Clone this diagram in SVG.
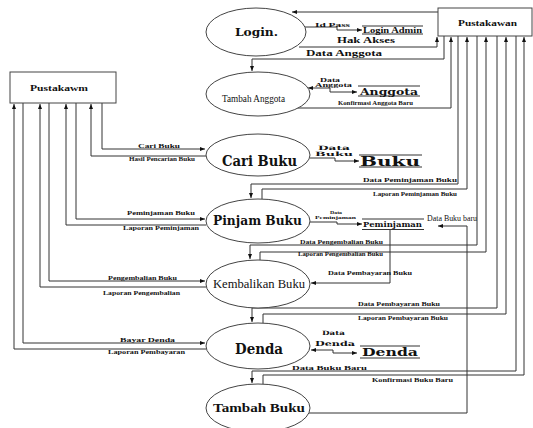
<svg xmlns="http://www.w3.org/2000/svg" width="533" height="428" viewBox="0 0 533 428">
<style>
text{font-family:"Liberation Serif","Times New Roman",serif;fill:#111}
.b{font-weight:bold}
.w{font-family:"DejaVu Serif","Liberation Serif",serif;font-weight:bold}
.ln{fill:none;stroke:#333;stroke-width:1}
.sh{fill:#fff;stroke:#444;stroke-width:1}
</style>
<defs>
<marker id="a" viewBox="0 0 10 10" refX="10" refY="5" markerWidth="5" markerHeight="5" orient="auto-start-reverse"><path d="M0,1 L10,5 L0,9 z" fill="#111"/></marker>
</defs>
<rect width="533" height="428" fill="#fff"/>

<g id="connectors">
<path class="ln" d="M438,12 H292" marker-end="url(#a)"/>
<path class="ln" d="M299,47 H437 V37" marker-end="url(#a)"/>
<path class="ln" d="M444,36 V59 H252 V71" marker-end="url(#a)"/>
<path class="ln" d="M297,108 H451 V37" marker-end="url(#a)"/>
<path class="ln" d="M458,36 V184 H251 V198" marker-end="url(#a)"/>
<path class="ln" d="M262,199 V189 H467 V37" marker-end="url(#a)"/>
<path class="ln" d="M477,36 V245 H250 V259" marker-end="url(#a)"/>
<path class="ln" d="M260,260 V252 H486 V37" marker-end="url(#a)"/>
<path class="ln" d="M497,36 V308 H252 V322" marker-end="url(#a)"/>
<path class="ln" d="M263,323 V314 H506 V37" marker-end="url(#a)"/>
<path class="ln" d="M516,36 V371 H252 V383" marker-end="url(#a)"/>
<path class="ln" d="M263,384 V375 H524 V37" marker-end="url(#a)"/>

<path class="ln" d="M102,103 V149 H205" marker-end="url(#a)"/>
<path class="ln" d="M206,156 H91 V104" marker-end="url(#a)"/>
<path class="ln" d="M76,103 V219 H205" marker-end="url(#a)"/>
<path class="ln" d="M206,225 H66 V104" marker-end="url(#a)"/>
<path class="ln" d="M49,103 V281 H205" marker-end="url(#a)"/>
<path class="ln" d="M206,287 H40 V104" marker-end="url(#a)"/>
<path class="ln" d="M23,103 V343 H205" marker-end="url(#a)"/>
<path class="ln" d="M206,349 H14 V104" marker-end="url(#a)"/>

<path class="ln" d="M305,27 H337 V30 H362" marker-end="url(#a)"/>
<path class="ln" d="M308,88 H330 V92 H357" marker-start="url(#a)" marker-end="url(#a)"/>
<path class="ln" d="M310,158 H335 V161 H359" marker-end="url(#a)"/>
<path class="ln" d="M310,222 H337 V224 H362" marker-end="url(#a)"/>
<path class="ln" d="M390,229 V283 H311" marker-end="url(#a)"/>
<path class="ln" d="M311,350 H333 V353 H357" marker-start="url(#a)" marker-end="url(#a)"/>
<path class="ln" d="M308,413 H467 V226 H438" marker-end="url(#a)"/>
</g>

<g id="pustakawan-right">
<rect class="sh" x="438" y="8" width="94" height="28"/>
<text class="b" x="458" y="26" font-size="9" textLength="59" lengthAdjust="spacingAndGlyphs">Pustakawan</text>
</g>
<g id="pustakawan-left">
<rect class="sh" x="10" y="72" width="106" height="31"/>
<text class="b" x="30" y="91" font-size="9" textLength="58" lengthAdjust="spacingAndGlyphs">Pustakawm</text>
</g>

<g id="login">
<ellipse class="sh" cx="256" cy="32" rx="50" ry="24"/>
<text class="w" x="235" y="36" font-size="11" textLength="43" lengthAdjust="spacingAndGlyphs">Login.</text>
</g>
<g id="tambah-anggota">
<ellipse class="sh" cx="258" cy="94" rx="52" ry="22"/>
<text x="222" y="101.5" font-size="10" textLength="63" lengthAdjust="spacingAndGlyphs">Tambah Anggota</text>
</g>
<g id="cari-buku">
<ellipse class="sh" cx="258" cy="155" rx="52" ry="21"/>
<text class="w" x="222" y="165.5" font-size="15" textLength="75" lengthAdjust="spacingAndGlyphs">Cari Buku</text>
</g>
<g id="pinjam-buku">
<ellipse class="sh" cx="258" cy="221" rx="52" ry="22"/>
<text class="w" x="213" y="225" font-size="12" textLength="89" lengthAdjust="spacingAndGlyphs">Pinjam Buku</text>
</g>
<g id="kembalikan-buku">
<ellipse class="sh" cx="258" cy="284" rx="52" ry="24"/>
<text x="213" y="288" font-size="12" textLength="92" lengthAdjust="spacingAndGlyphs">Kembalikan Buku</text>
</g>
<g id="denda">
<ellipse class="sh" cx="258" cy="346" rx="52" ry="23"/>
<text class="w" x="235" y="353.5" font-size="15" textLength="48" lengthAdjust="spacingAndGlyphs">Denda</text>
</g>
<g id="tambah-buku">
<ellipse class="sh" cx="258" cy="408" rx="52" ry="24"/>
<text class="b" x="213" y="412" font-size="12" textLength="92" lengthAdjust="spacingAndGlyphs">Tambah Buku</text>
</g>

<g id="store-login-admin">
<path class="ln" d="M362,26 H423 M362,34 H423"/>
<text class="b" x="363" y="33" font-size="8" textLength="59" lengthAdjust="spacingAndGlyphs">Login Admin</text>
</g>
<g id="store-anggota">
<path class="ln" d="M358,86 H420 M358,96 H420"/>
<text class="w" x="360" y="94.5" font-size="10" textLength="58" lengthAdjust="spacingAndGlyphs">Anggota</text>
</g>
<g id="store-buku">
<path class="ln" d="M359,155 H422 M359,167 H422"/>
<text class="w" x="360" y="165.5" font-size="13" textLength="60" lengthAdjust="spacingAndGlyphs">Buku</text>
</g>
<g id="store-peminjaman">
<path class="ln" d="M362,219 H424 M362,229.5 H424"/>
<text class="w" x="363" y="227" font-size="8" textLength="59" lengthAdjust="spacingAndGlyphs">Peminjaman</text>
</g>
<g id="store-denda">
<path class="ln" d="M360,346 H420 M360,358 H420"/>
<text class="w" x="362" y="356" font-size="11" textLength="56" lengthAdjust="spacingAndGlyphs">Denda</text>
</g>
<g id="data-buku-baru">
<text x="427" y="221" font-size="8.5" textLength="50" lengthAdjust="spacingAndGlyphs">Data Buku baru</text>
</g>

<g id="labels">
<text class="b" x="315" y="26.5" font-size="7" textLength="35" lengthAdjust="spacingAndGlyphs">Id Pass</text>
<text class="b" x="337" y="42.6" font-size="7.5" textLength="58" lengthAdjust="spacingAndGlyphs">Hak Akses</text>
<text class="b" x="306" y="55.8" font-size="8" textLength="76" lengthAdjust="spacingAndGlyphs">Data Anggota</text>
<text class="b" x="320" y="82" font-size="5.5" textLength="20" lengthAdjust="spacingAndGlyphs">Data</text>
<text class="b" x="315" y="86.5" font-size="6" textLength="37" lengthAdjust="spacingAndGlyphs">Anggota</text>
<text class="b" x="338" y="105" font-size="6" textLength="75" lengthAdjust="spacingAndGlyphs">Konfirmasi Anggota Baru</text>
<text class="w" x="318" y="150" font-size="6" textLength="32" lengthAdjust="spacingAndGlyphs">Data</text>
<text class="w" x="315" y="155.5" font-size="6" textLength="38" lengthAdjust="spacingAndGlyphs">Buku</text>
<text class="b" x="363" y="182" font-size="6.5" textLength="94" lengthAdjust="spacingAndGlyphs">Data Peminjaman Buku</text>
<text class="b" x="373" y="196" font-size="6" textLength="84" lengthAdjust="spacingAndGlyphs">Laporan Peminjaman Buku</text>
<text class="b" x="330" y="213.5" font-size="4.5" textLength="12" lengthAdjust="spacingAndGlyphs">Data</text>
<text class="b" x="315" y="218.5" font-size="5" textLength="41" lengthAdjust="spacingAndGlyphs">Peminjaman</text>
<text class="b" x="300" y="244" font-size="6" textLength="83" lengthAdjust="spacingAndGlyphs">Data Pengembalian Buku</text>
<text class="b" x="298" y="256" font-size="5.5" textLength="85" lengthAdjust="spacingAndGlyphs">Laporan Pengembalian Buku</text>
<text class="b" x="328" y="275" font-size="6.5" textLength="84" lengthAdjust="spacingAndGlyphs">Data Pembayaran Buku</text>
<text class="b" x="358" y="306" font-size="6" textLength="82" lengthAdjust="spacingAndGlyphs">Data Pembayaran Buku</text>
<text class="b" x="358" y="320" font-size="5.5" textLength="90" lengthAdjust="spacingAndGlyphs">Laporan Pembayaran Buku</text>
<text class="w" x="322" y="335" font-size="6" textLength="23" lengthAdjust="spacingAndGlyphs">Data</text>
<text class="w" x="315" y="345.5" font-size="7" textLength="40" lengthAdjust="spacingAndGlyphs">Denda</text>
<text class="b" x="292" y="369.5" font-size="7" textLength="75" lengthAdjust="spacingAndGlyphs">Data Buku Baru</text>
<text class="b" x="372" y="381.5" font-size="7" textLength="81" lengthAdjust="spacingAndGlyphs">Konfirmasi Buku Baru</text>

<text class="b" x="138" y="147.5" font-size="7" textLength="42" lengthAdjust="spacingAndGlyphs">Cari Buku</text>
<text class="b" x="129" y="161" font-size="5.5" textLength="66" lengthAdjust="spacingAndGlyphs">Hasil Pencarian Buku</text>
<text class="b" x="127" y="215" font-size="6.5" textLength="68" lengthAdjust="spacingAndGlyphs">Peminjaman Buku</text>
<text class="b" x="123" y="230" font-size="6.5" textLength="76" lengthAdjust="spacingAndGlyphs">Laporan Peminjaman</text>
<text class="b" x="108" y="280" font-size="6.5" textLength="69" lengthAdjust="spacingAndGlyphs">Pengembalian Buku</text>
<text class="b" x="103" y="295" font-size="6" textLength="77" lengthAdjust="spacingAndGlyphs">Laporan Pengembalian</text>
<text class="b" x="120" y="341.5" font-size="7" textLength="55" lengthAdjust="spacingAndGlyphs">Bayar Denda</text>
<text class="b" x="108" y="354" font-size="6" textLength="77" lengthAdjust="spacingAndGlyphs">Laporan Pembayaran</text>
</g>
</svg>
